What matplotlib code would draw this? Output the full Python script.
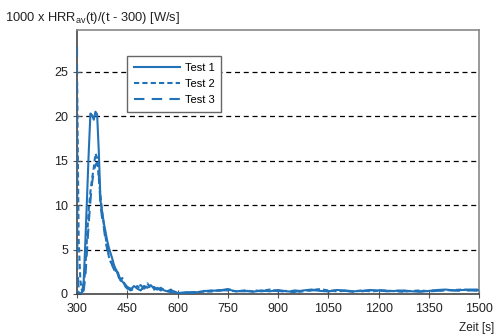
import matplotlib
matplotlib.use("Agg")
import numpy as np
import matplotlib.pyplot as plt

# Zeitachse (gemeinsam fuer alle drei Versuche)
zeit = [300, 301, 305, 310, 315, 320, 325, 330, 335, 340, 345, 350, 355, 360, 365,
        370, 375, 380, 385, 390, 395, 400, 405, 410, 415, 420, 425, 430, 435, 440,
        445, 450,
        460, 470, 480, 490, 500, 510, 520, 530, 540, 550, 560, 570, 580, 590, 600,
        625, 650, 675, 700, 725, 750, 775, 800, 825, 850, 875, 900, 925, 950, 975,
        1000, 1025, 1050, 1075, 1100, 1125, 1150, 1175, 1200, 1225, 1250, 1275,
        1300, 1325, 1350, 1375, 1400, 1425, 1450, 1475, 1500]

test1 = [0.3, 0.3, 0.2, 0.1, 0.1, 1.5, 6, 11, 16, 20.3, 20.1, 19.6, 20.5, 20.2, 16,
         10.5, 9.2, 8, 7, 6, 5.2, 4.6, 4, 3.3, 2.8, 2.4, 2, 1.7, 1.4, 1.2,
         0.8, 0.6,
         0.5, 0.9, 0.6, 0.4, 0.9, 0.7, 1.0, 0.6, 0.5, 0.7, 0.4, 0.3, 0.5, 0.2, 0.1,
         0.2, 0.15, 0.3, 0.4, 0.35, 0.5, 0.3, 0.35, 0.25, 0.4, 0.3, 0.45, 0.3, 0.25, 0.4,
         0.5, 0.35, 0.3, 0.45, 0.4, 0.3, 0.35, 0.45, 0.4, 0.3, 0.35, 0.4,
         0.3, 0.25, 0.35, 0.45, 0.5, 0.4, 0.45, 0.5, 0.45]

test2 = [24, 21, 6, 1.5, 0.3, 0.8, 3, 6.5, 9.5, 11.5, 13, 14.2, 15.8, 15.3, 13,
         11, 9.2, 7.8, 6.5, 5.2, 4.2, 3.6, 3.4, 3.0, 2.6, 2.8, 2.0, 1.5, 1.8, 1.3,
         0.9, 0.7,
         0.4, 0.6, 0.9, 0.5, 0.7, 1.2, 0.6, 0.8, 0.4, 0.6, 0.5, 0.3, 0.4, 0.2, 0.1,
         0.1, 0.2, 0.25, 0.3, 0.45, 0.4, 0.3, 0.4, 0.3, 0.35, 0.5, 0.3, 0.35, 0.2, 0.3,
         0.45, 0.55, 0.4, 0.3, 0.35, 0.3, 0.4, 0.3, 0.35, 0.4, 0.3, 0.25,
         0.35, 0.4, 0.3, 0.35, 0.4, 0.45, 0.5, 0.45, 0.5]

test3 = [27.8, 3, 0.6, 0.5, 0.2, 0.4, 2, 5, 8, 10.5, 12.5, 13.8, 14.5, 14.8, 13.5,
         10, 8.5, 7.5, 6, 5, 4.5, 3.8, 3.2, 2.8, 2.2, 2.5, 1.8, 1.6, 1.2, 1.4,
         1.0, 0.8,
         0.6, 0.5, 0.8, 1.0, 0.6, 0.9, 0.7, 0.5, 0.7, 0.4, 0.6, 0.3, 0.2, 0.3, 0.1,
         0.15, 0.2, 0.35, 0.3, 0.4, 0.55, 0.35, 0.3, 0.45, 0.3, 0.4, 0.35, 0.25, 0.4, 0.3,
         0.4, 0.45, 0.3, 0.4, 0.35, 0.25, 0.3, 0.4, 0.45, 0.35, 0.4, 0.3,
         0.35, 0.3, 0.4, 0.35, 0.45, 0.4, 0.35, 0.4, 0.35]

xticks = [300, 450, 600, 750, 900, 1050, 1200, 1350, 1500]
yticks = [0, 5, 10, 15, 20, 25]

plt.rcParams['font.family'] = ['Liberation Sans', 'DejaVu Sans']
blau = '#2272b8'

fig = plt.figure(figsize=(4.95, 3.36), dpi=100)
ax = fig.add_axes([0.1556, 0.125, 0.8124, 0.786])

for y in yticks[1:]:
    ax.axhline(y, color='black', lw=0.9, dashes=(4, 3), zorder=1)

ax.plot(zeit, test1, color=blau, lw=1.5, label='Test 1', zorder=3)
ax.plot(zeit, test2, color=blau, lw=1.5, dashes=(2.5, 1.5), label='Test 2', zorder=3)
ax.plot(zeit, test3, color=blau, lw=1.5, dashes=(5, 3.5), label='Test 3', zorder=3)

ax.set_xlim(300, 1500)
ax.set_ylim(0, 29.7)
ax.set_xticks(xticks)
ax.set_yticks(yticks)
ax.tick_params(direction='inout', length=6, width=0.8, color='#555555',
               labelsize=9, labelcolor='#222222')
for s in ax.spines.values():
    s.set_color('#888888')
    s.set_linewidth(1.2)
ax.spines['bottom'].set_color('#444444')
ax.spines['left'].set_color('#444444')

leg = ax.legend(loc='upper left', bbox_to_anchor=(0.124, 0.9), borderaxespad=0,
                handlelength=4.2, fontsize=8, frameon=True, fancybox=False,
                borderpad=0.6, labelspacing=0.55, handletextpad=0.4)
leg.get_frame().set_edgecolor('#666666')
leg.get_frame().set_linewidth(1.0)
leg.get_frame().set_alpha(1)
leg.set_zorder(5)

fig.text(0.01, 0.945, '1000 x HRR$_\\mathregular{av}$(t)/(t - 300) [W/s]',
         fontsize=9.3, color='#222222', va='center')
fig.text(0.998, 0.025, 'Zeit [s]', fontsize=8.5, color='#222222', ha='right', va='center')

fig.savefig('out.png', dpi=100)
